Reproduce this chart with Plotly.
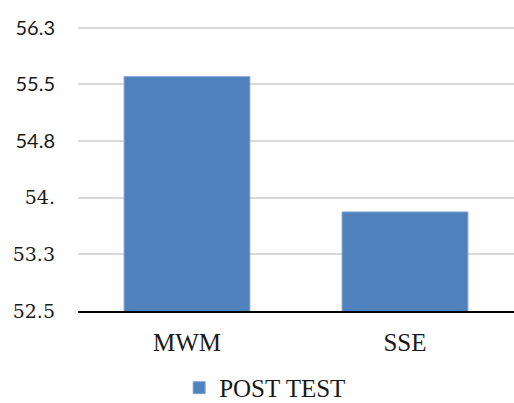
import plotly.graph_objects as go

categories = ["MWM", "SSE"]
post_test = [55.6, 53.81]
serif_tick_vals = [52.5, 53.25, 54.0]
serif_tick_text = ["52.5", "53.3", "54."]
sans_tick_vals = [54.75, 55.5, 56.25]
sans_tick_text = ["54.8", "55.5", "56.3"]

SERIF = "Liberation Serif"
DIGIT_SERIF = "DejaVu Serif"
SANS = "Lato"
y_range = [52.5, 56.27]

fig = go.Figure()
fig.add_trace(go.Bar(
    x=categories, y=post_test, name="POST TEST",
    marker=dict(color="#4F81BD", line=dict(color="#7EA3D2", width=1)),
))
# invisible helper trace so the second axis is drawn
fig.add_trace(go.Scatter(x=categories, y=post_test, yaxis="y2", mode="markers",
                         marker=dict(opacity=0), showlegend=False, hoverinfo="skip"))

fig.update_layout(
    width=514, height=403,
    margin=dict(l=78, r=0, t=26, b=92, autoexpand=False),
    paper_bgcolor="white", plot_bgcolor="white",
    bargap=0.423,
    showlegend=True,
    legend=dict(orientation="h", x=0.232, xanchor="left", y=-0.27, yanchor="middle",
                font=dict(family=SERIF, size=25, color="#1a1a1a"),
                itemwidth=30, tracegroupgap=0),
    font=dict(family=SERIF, color="#1a1a1a"),
    yaxis=dict(
        range=y_range, tickmode="array", tickvals=serif_tick_vals, ticktext=serif_tick_text,
        showgrid=True, gridcolor="#d9d9d9", gridwidth=1.5,
        zeroline=False, showline=False,
        tickfont=dict(family=DIGIT_SERIF, size=19, color="#1a1a1a"),
        ticklabelstandoff=22,
    ),
    yaxis2=dict(
        range=y_range, overlaying="y", side="left", tickmode="array",
        tickvals=sans_tick_vals, ticktext=sans_tick_text,
        showgrid=True, gridcolor="#d9d9d9", gridwidth=1.5,
        zeroline=False, showline=False,
        tickfont=dict(family=SANS, size=20, color="#1a1a1a"),
        ticklabelstandoff=22,
    ),
)
fig.update_xaxes(
    showline=True, linecolor="#000000", linewidth=1.5,
    tickfont=dict(family=SERIF, size=25, color="#1a1a1a"),
    ticklabelstandoff=8,
)
fig.write_html("out.html", config={"displayModeBar": False},
               post_script="document.body.style.margin='0';")
